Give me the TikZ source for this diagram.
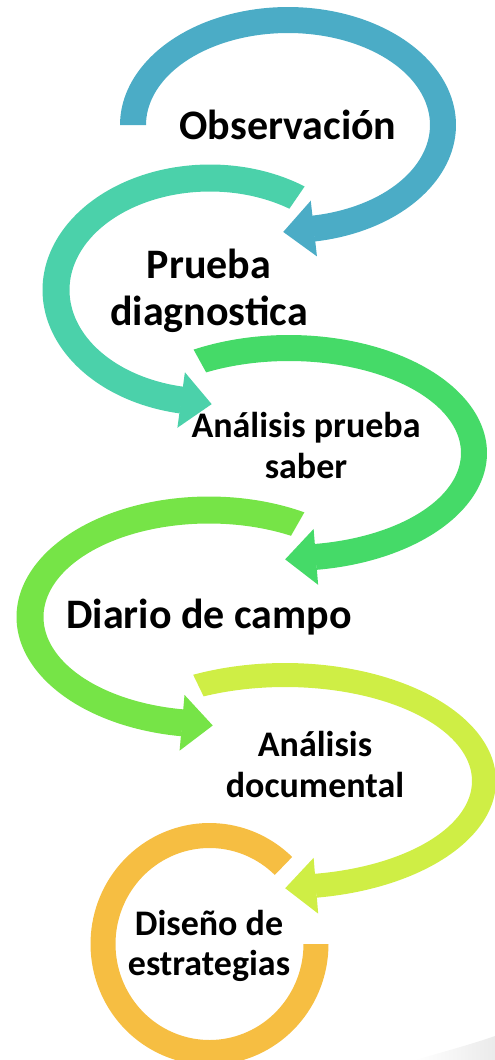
\documentclass[tikz,border=0pt]{standalone}
\usepackage{fontspec}
\setmainfont{Carlito}
\definecolor{cA}{HTML}{4BACC6}
\definecolor{cB}{HTML}{4BD1AA}
\definecolor{cC}{HTML}{45DA68}
\definecolor{cD}{HTML}{76E447}
\definecolor{cE}{HTML}{CFEE45}
\definecolor{cF}{HTML}{F6BE42}
% #1 colour, #2 cx, #3 cy, #4 rx, #5 ry, #6 band width, #7 start angle, #8 end angle
\newcommand\bandpart[8]{%
  \pgfmathsetmacro\BAho{#6/2}%
  \fill[#1] plot[domain=#7:#8, samples=120, variable=\t] ({#2+(#4+\BAho)*cos(\t)},{#3-(#5+\BAho)*sin(\t)})
     -- plot[domain=#8:#7, samples=120, variable=\t] ({#2+(#4-\BAho)*cos(\t)},{#3-(#5-\BAho)*sin(\t)}) -- cycle;%
}
\newcommand\bandarrow[8]{%
  \bandpart{#1}{#2}{#3}{#4}{#5}{#6}{#7}{#8}%
  \pgfmathsetmacro\BAsg{(#8>#7)?1:-1}%
  \pgfmathsetmacro\BApx{#2+#4*cos(#8)}%
  \pgfmathsetmacro\BApy{#3-#5*sin(#8)}%
  \pgfmathsetmacro\BAtx{-\BAsg*#4*sin(#8)}%
  \pgfmathsetmacro\BAty{-\BAsg*#5*cos(#8)}%
  \pgfmathsetmacro\BAn{veclen(\BAtx,\BAty)}%
  \pgfmathsetmacro\BAux{\BAtx/\BAn}%
  \pgfmathsetmacro\BAuy{\BAty/\BAn}%
  \fill[#1] ({\BApx+28*(\BAuy)-0.8*(\BAux)},{\BApy-28*(\BAux)-0.8*(\BAuy)})
     -- ({\BApx+30*(\BAux)},{\BApy+30*(\BAuy)})
     -- ({\BApx-28*(\BAuy)-0.8*(\BAux)},{\BApy+28*(\BAux)-0.8*(\BAuy)}) -- cycle;%
}
\begin{document}
\begin{tikzpicture}[x=1pt,y=-1pt,
  lbl/.style={inner sep=0pt, font=\bfseries, align=center, text=black, anchor=base},
  big/.style={lbl, font=\bfseries\fontsize{42}{47}\selectfont},
  mid/.style={lbl, font=\bfseries\fontsize{36}{41}\selectfont}]
\useasboundingbox (0,0) rectangle (495,1060);
% faint page shadow at the lower right corner
\shade[left color=white, right color=black!8] (415,1060) .. controls (450,1050) and (475,1043) .. (495,1036) -- (495,1060) -- cycle;
\bandarrow{cA}{288}{125}{155}{105}{26}{180}{-80.7}
\bandarrow{cB}{210}{290}{154}{112}{27}{55.6}{259.5}
\bandarrow{cC}{289}{453}{185}{105}{26}{118.8}{-81.9}
\bandarrow{cD}{209}{617}{179}{107}{27}{60.3}{261.6}
\bandarrow{cE}{285}{781}{199}{106}{24}{115.8}{-81.3}
\bandpart{cF}{209.5}{944}{106.5}{108.5}{25}{46}{360}
\node[big] (obs) at (288,139) {Observación};
\node[big] (pru) at (209,325) {Prueba\\diagnostica};
\node[mid] (ana) at (306,478) {Análisis prueba\\saber};
\node[big] (dia) at (209,628) {Diario de campo};
\node[mid] (doc) at (315,797) {Análisis\\documental};
\node[mid, font=\bfseries\fontsize{36}{40}\selectfont] (dis) at (209,975) {Diseño de\\estrategias};
\end{tikzpicture}
\end{document}
